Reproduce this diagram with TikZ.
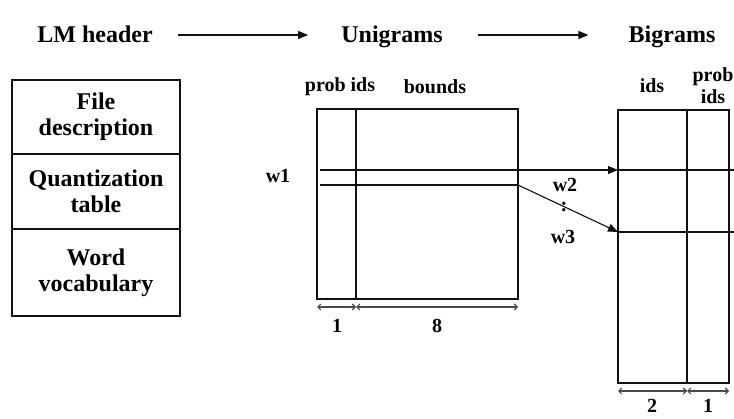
\documentclass[tikz,border=0pt]{standalone}
\usepackage{fontspec}
\setmainfont{Liberation Serif}
\usetikzlibrary{arrows.meta,calc}
\definecolor{ink}{HTML}{111111}
\definecolor{dimgrey}{HTML}{4A4A4A}
\tikzset{
  head/.style={font=\fontsize{24}{26}\selectfont\bfseries,text height=16pt,text depth=0pt,inner sep=0pt},
  lbl/.style={font=\fontsize{20}{22}\selectfont\bfseries,align=center,inner sep=0pt},
  cell/.style={draw=ink,line width=1.1pt,font=\fontsize{24}{26}\selectfont\bfseries,align=center,
               minimum width=168pt,outer sep=0pt},
  grid/.style={draw=ink,line width=1.1pt},
  link/.style={-{Triangle[length=10pt,width=8pt]},line width=1.1pt,color=ink},
  dim/.style={{Straight Barb[length=3pt,width=6pt]}-{Straight Barb[length=3pt,width=6pt]},
              line width=1.1pt,color=dimgrey},
}
\begin{document}
\begin{tikzpicture}[x=1pt,y=-1pt]
  \useasboundingbox (0,0) rectangle (734,419);
  % Header row
  \node[head] (lmh) at (95,35) {LM header};
  \node[head] (uni) at (392,35) {Unigrams};
  \node[head] (bi) at (672,35) {Bigrams};
  \draw[link,shorten <=25pt,shorten >=33pt] (lmh.east) -- (uni.west);
  \draw[link,shorten <=35pt,shorten >=40pt] (uni.east) -- (bi.west);
  % LM header fields
  \node[cell,minimum height=74pt] (fdesc) at (96,117) {File\\description};
  \node[cell,minimum height=75pt] (qtab) at (96,191.5) {Quantization\\table};
  \node[cell,minimum height=87pt] (wvoc) at (96,272.5) {Word\\vocabulary};
  % Unigrams table
  \node[lbl] (uprob) at (340,87) {prob ids};
  \node[lbl] (ubnd) at (435,87) {bounds};
  \draw[grid] (317,109) rectangle (518,299);
  \draw[grid] (356,109) -- (356,299);
  \coordinate (u1) at (320,170);
  \coordinate (u2) at (320,185);
  \coordinate (u2e) at (518,185);
  \node[lbl] (w1) at (278,176) {w1};
  \draw[dim] (317,307) coordinate (ud0) -- (356,307) coordinate (ud1);
  \draw[dim] (ud1) -- (518,307);
  \node[lbl] (un1) at (337,326) {1};
  \node[lbl] (un8) at (437,326) {8};
  % Bigrams table
  \node[lbl] (bids) at (652,86) {ids};
  \node[lbl] (bprob) at (713,86) {prob\\ids};
  \draw[grid] (618,110) rectangle (729,383);
  \draw[grid] (687,110) -- (687,383);
  \coordinate (b1) at (618,170);
  \coordinate (b2) at (618,232);
  \draw[grid] (b1) -- (740,170);
  \draw[grid] (b2) -- (740,232);
  \draw[dim] (618,391) coordinate (bd0) -- (687,391) coordinate (bd1);
  \draw[dim] (bd1) -- (729,391);
  \node[lbl] (bn2) at (652,406) {2};
  \node[lbl] (bn1) at (708,406) {1};
  % Pointers into the bigrams
  \draw[link] (u1) -- (b1);
  \draw[grid] (u2) -- (u2e);
  \draw[link] (u2e) -- (b2);
  \node[lbl] (w2) at (565,185) {w2};
  \node[lbl] (wdots) at (564,207) {:};
  \node[lbl] (w3) at (563,237) {w3};
\end{tikzpicture}
\end{document}
